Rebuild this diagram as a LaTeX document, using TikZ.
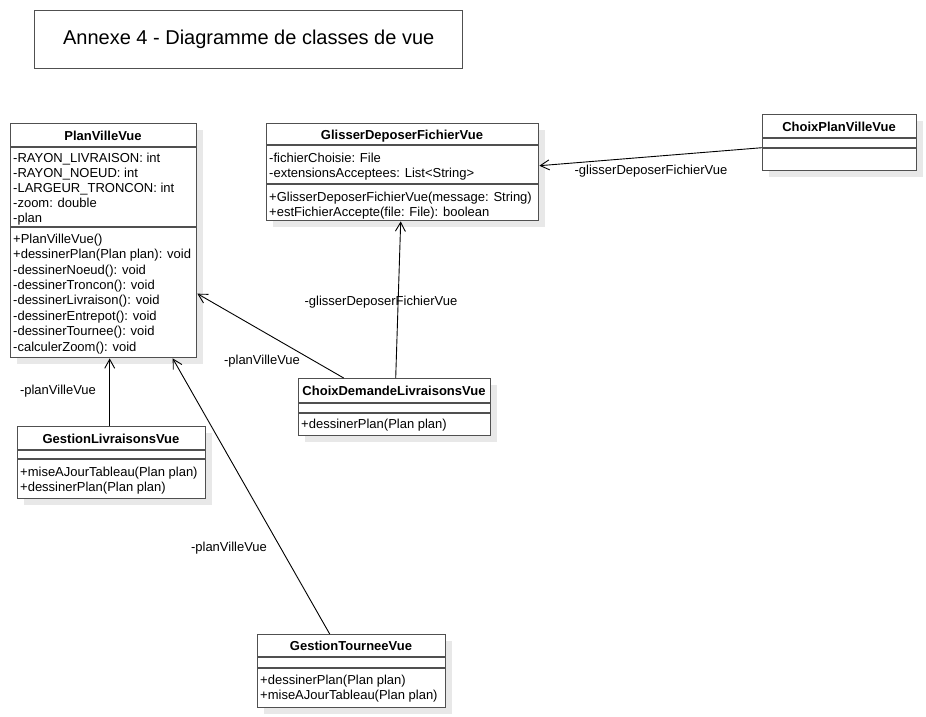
\documentclass[tikz,border=0pt]{standalone}
\usepackage{fontspec}
\setmainfont{Liberation Sans}
\usetikzlibrary{arrows.meta}
\definecolor{boxgray}{HTML}{505050}
\definecolor{shadowgray}{HTML}{E8E8E8}
\tikzset{
 clsbox/.style={draw=boxgray, line width=1.4pt, fill=white, inner sep=0pt, rectangle},
 sepline/.style={draw=boxgray, line width=1.4pt},
 txt/.style={inner sep=0pt, font=\fontsize{13}{15}\selectfont, text height=9.4pt, text depth=0pt, anchor=west},
 ttl/.style={inner sep=0pt, font=\fontsize{13}{15}\selectfont\bfseries, text height=9.4pt, text depth=0pt, anchor=center},
 lbl/.style={inner sep=0pt, font=\fontsize{13}{15}\selectfont, text height=9.4pt, text depth=0pt, anchor=center},
 assoc/.style={draw=black, line width=0.9pt, -{Straight Barb[length=9pt, width=10pt, line width=0.9pt]}},
}
\newcommand\umlclass[8]{%
 \fill[shadowgray] (#2+7,#3+7) rectangle (#4+7,#5+7);
 \node[clsbox, minimum width={#4-#2}, minimum height={#5-#3}, anchor=north west] (#1) at (#2,#3) {};
 \draw[sepline] (#2,#6) -- (#4,#6);
 \draw[sepline] (#2,#7) -- (#4,#7);
 \node[ttl] (#1-t) at ({(#2+#4)/2}, {(#3+#6)/2+0.5}) {#8};
}
\newcommand\umllines[5]{%
 \foreach \itm [count=\i] in {#5} \node[txt] (#1\i) at (#2, {#3+(\i-1)*#4}) {\itm};
}
\begin{document}
\begin{tikzpicture}[x=1pt,y=-1pt]
\useasboundingbox (0,0) rectangle (926,716);
\node[draw=boxgray, line width=1.4pt, minimum width=428pt, minimum height=58pt, anchor=north west, inner sep=0pt, font=\fontsize{20}{24}\selectfont] (title) at (34,10) {Annexe 4 - Diagramme de classes de vue};

\umlclass{plan}{10}{123}{196}{357}{147}{227}{PlanVilleVue}
\umllines{plan-a}{13}{158}{15}{-RAYON\_LIVRAISON: int, -RAYON\_NOEUD: int, -LARGEUR\_TRONCON: int, -zoom: double, -plan}
\umllines{plan-m}{13}{238.5}{15.4}{+PlanVilleVue(), +dessinerPlan(Plan plan): void, -dessinerNoeud(): void, -dessinerTroncon(): void, -dessinerLivraison(): void, -dessinerEntrepot(): void, -dessinerTournee(): void, -calculerZoom(): void}

\umlclass{gdf}{266}{123}{538}{220}{145}{184}{GlisserDeposerFichierVue}
\umllines{gdf-a}{269}{158}{15}{-fichierChoisie: File, -extensionsAcceptees: List<String>}
\umllines{gdf-m}{269}{197}{14.5}{+GlisserDeposerFichierVue(message: String), +estFichierAccepte(file: File): boolean}

\umlclass{cpv}{762}{114}{916}{170}{138}{148}{ChoixPlanVilleVue}

\umlclass{cdl}{298}{378}{490}{435}{403}{413}{ChoixDemandeLivraisonsVue}
\umllines{cdl-m}{301}{424}{15}{+dessinerPlan(Plan plan)}

\umlclass{gl}{17}{426}{205}{498}{450}{459}{GestionLivraisonsVue}
\umllines{gl-m}{20}{472}{14.5}{+miseAJourTableau(Plan plan), +dessinerPlan(Plan plan)}

\umlclass{gt}{257}{634}{445}{707}{657}{668}{GestionTourneeVue}
\umllines{gt-m}{260}{680}{14.5}{+dessinerPlan(Plan plan), +miseAJourTableau(Plan plan)}

\draw[assoc] ([yshift=-5pt]cpv.west) -- ([yshift=6.5pt]gdf.east);
\draw[assoc] ([xshift=1pt]cdl.north) -- ([xshift=-2pt]gdf.south);
\draw[assoc] ([xshift=-51pt]cdl.north) -- ([yshift=-53pt]plan.east);
\draw[assoc] ([xshift=-2pt]gl.north) -- ([xshift=6pt]plan.south);
\draw[assoc] ([xshift=-22pt]gt.north) -- ([xshift=69pt]plan.south);

\node[lbl] (l1) at (651,170) {-glisserDeposerFichierVue};
\node[lbl] (l2) at (381,301) {-glisserDeposerFichierVue};
\node[lbl] (l3) at (262,360) {-planVilleVue};
\node[lbl] (l4) at (58,390) {-planVilleVue};
\node[lbl] (l5) at (229,547) {-planVilleVue};
\end{tikzpicture}
\end{document}
